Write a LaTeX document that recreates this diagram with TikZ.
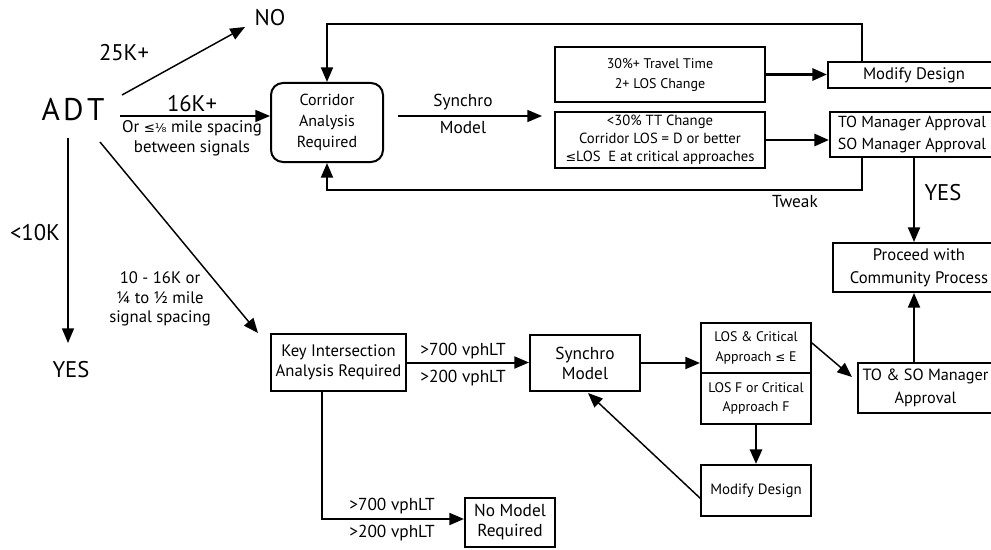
\documentclass[tikz,border=0pt]{standalone}
\usepackage{fontspec}
\setmainfont{PT Sans}
\newfontfamily\symf{DejaVu Sans}
\usetikzlibrary{arrows.meta}
\begin{document}
\begin{tikzpicture}[x=0.75pt,y=-0.75pt,
  box/.style={draw, line width=1.5pt, inner sep=0pt, align=center},
  sz/.style 2 args={minimum width=#1*0.75pt, minimum height=#2*0.75pt},
  arr/.style={line width=1.5pt, -{Triangle[length=11pt,width=9pt]}},
  thickarr/.style={line width=2.2pt, -{Triangle[length=11pt,width=9pt]}},
  thinarr/.style={line width=1.1pt, -{Triangle[length=11pt,width=9pt]}},
  lbl/.style={inner sep=0pt, align=center},
  big/.style={font=\fontsize{17}{19}\selectfont},
  mid/.style={font=\fontsize{13}{15}\selectfont},
  sml/.style={font=\fontsize{10.5}{15}\selectfont}]
\useasboundingbox (0,0) rectangle (991,549);
\clip (0,0) rectangle (991,549);

% ---- text labels ----
\node[lbl, font=\fontsize{23.5}{26}\selectfont] (adt) at (73,110) {A\hspace{2.5pt}D\hspace{2.5pt}T};
\node[lbl, big] (no) at (270,18) {NO};
\node[lbl, big] (l25) at (124,53) {25K+};
\node[lbl, big] (l16) at (192,104) {16K+};
\node[lbl, font=\fontsize{12.6}{15}\selectfont] (lor) at (192,138) {Or {\symf\fontsize{10}{10}\selectfont ≤}{\symf\fontsize{9}{9}\selectfont ⅛} mile spacing\\between signals};
\node[lbl, big] (l10) at (35,233) {<10K};
\node[lbl, big] (yes1) at (71,370) {YES};
\node[lbl, font=\fontsize{12.5}{14.8}\selectfont] (l1016) at (160,299) {10 - 16K or\\¼ to ½ mile\\signal spacing};
\node[lbl, mid] (lsyn) at (463,102) {Synchro};
\node[lbl, mid] (lmod) at (463,128) {Model};
\node[lbl, mid] (ltw) at (795,202) {Tweak};
\node[lbl, big] (yes2) at (943,193) {YES};
\node[lbl, mid] (k700) at (463,351) {>700 vphLT};
\node[lbl, mid] (k200) at (463,378) {>200 vphLT};
\node[lbl, mid] (n700) at (392,506) {>700 vphLT};
\node[lbl, mid] (n200) at (392,533) {>200 vphLT};

% ---- boxes ----
\node[box, rounded corners=9pt, sz={112}{79}, font=\fontsize{12}{15.5}\selectfont] (corr) at (327,122.5) {Corridor\\Analysis\\Required};
\node[box, sz={210}{55}, sml] (tb) at (660,74.5) {30\%+ Travel Time\\2+ LOS Change};
\node[box, sz={210}{56}, font=\fontsize{11}{13.5}\selectfont] (bb) at (660,140) {<30\% TT Change\\Corridor LOS = D or better\\{\symf\fontsize{9.5}{9.5}\selectfont ≤}LOS\ \ E at critical approaches};
\node[box, sz={172}{26}, font=\fontsize{12.5}{15}\selectfont] (md1) at (914,75) {Modify Design};
\node[box, sz={172}{45}, font=\fontsize{12}{16.5}\selectfont] (to) at (916,134.5) {\hspace*{-6pt}TO Manager Approval\\\hspace*{-6pt}SO Manager Approval};
\node[box, sz={172}{49}, font=\fontsize{12.5}{17}\selectfont] (proc) at (919,267.5) {Proceed with\\Community Process};
\node[box, sz={135}{50}, font=\fontsize{12.2}{17}\selectfont] (toso) at (925.5,388) {TO \& SO Manager\\Approval};
\node[box, sz={135}{57}, font=\fontsize{12.5}{15}\selectfont] (key) at (338.5,362.5) {Key Intersection\\Analysis Required};
\node[box, sz={110}{56}, mid] (syn) at (585,363) {Synchro\\Model};
\node[box, sz={110}{50}, font=\fontsize{10.4}{14.5}\selectfont] (losA) at (756,348) {LOS \& Critical\\Approach {\symf\fontsize{9}{9}\selectfont ≤} E};
\node[box, sz={110}{51}, font=\fontsize{10.4}{14.5}\selectfont] (losB) at (756,398.5) {LOS F or Critical\\Approach F};
\node[box, sz={110}{51}, font=\fontsize{11.2}{14}\selectfont] (md2) at (756,490.5) {Modify Design};
\node[box, sz={90}{49}, mid] (nomod) at (510,522.5) {No Model\\Required};

% ---- connector end points ----
\coordinate (p25s) at (122,95);
\coordinate (p25e) at (245,27);
\coordinate (p16s) at (120,116);
\coordinate (pvs) at (68,138);
\coordinate (pve) at (68,343);
\coordinate (pds) at (100,142);
\coordinate (pde) at (258,333);
\coordinate (ps1) at (398,116);
\coordinate (ps2) at (542,116);
\coordinate (lx) at (862,24);
\coordinate (bx) at (862,190);
\coordinate (yx) at (914,0);
\coordinate (kx) at (322,519);
\coordinate (la) at (812,343);
\coordinate (lb) at (852,377);
\coordinate (ms) at (701,499);
\coordinate (me) at (588,393);

% ---- connectors ----
\draw[thinarr] (p25s) -- (p25e);
\draw[thinarr] (p16s) -- (p16s -| corr.west);
\draw[thinarr] (pvs) -- (pve);
\draw[thinarr] (pds) -- (pde);
\draw[thinarr] (ps1) -- (ps2);
\draw[thickarr] (tb.east) -- (tb.east -| md1.west);
\draw[thickarr] (bb.east) -- (bb.east -| to.west);
\draw[arr] (md1.north -| lx) -- (lx) -| (corr.north);
\draw[arr] (to.south -| bx) -- (bx) -| (corr.south);
\draw[arr] (to.south -| yx) -- (proc.north -| yx);
\draw[arr] (toso.north -| yx) -- (proc.south -| yx);
\draw[arr] (key.east) -- (key.east -| syn.west);
\draw[arr] (key.south -| kx) -- (kx) -- (kx -| nomod.west);
\draw[arr] (syn.east) -- (syn.east -| losA.west);
\draw[thinarr] (la) -- (lb);
\draw[thickarr] (losB.south) -- (md2.north);
\draw[thinarr] (ms) -- (me);
\end{tikzpicture}
\end{document}
